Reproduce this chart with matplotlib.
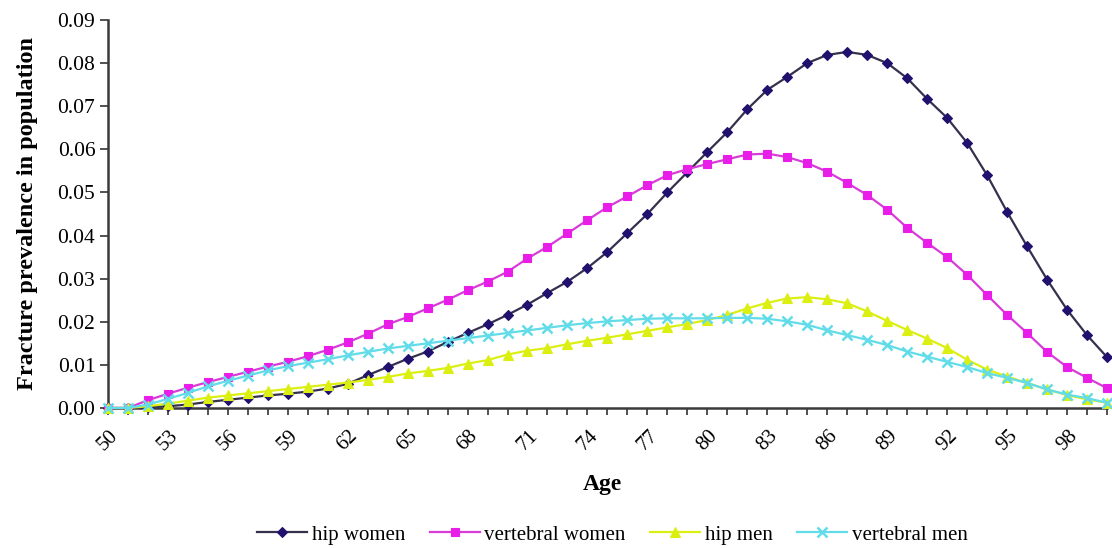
"""Fracture prevalence by age, hip and vertebral, women and men."""

import matplotlib
matplotlib.use("Agg")
import matplotlib.pyplot as plt
import numpy as np

plt.rcParams.update({
    "font.family": "Liberation Serif",
    "font.size": 12,
})

ages = list(range(50, 101))

hip_women = [
    0.0, 0.0, 0.0002, 0.0004, 0.0008, 0.0014, 0.0019, 0.0024, 0.0029, 0.0033,
    0.0038, 0.0045, 0.0056, 0.0076, 0.0095, 0.0114, 0.0131, 0.0153, 0.0174, 0.0194,
    0.0216, 0.0240, 0.0267, 0.0293, 0.0325, 0.0362, 0.0406, 0.0450, 0.0500, 0.0547,
    0.0594, 0.0640, 0.0693, 0.0738, 0.0768, 0.0800, 0.0819, 0.0826, 0.0819, 0.0800,
    0.0765, 0.0717, 0.0673, 0.0615, 0.0540, 0.0455, 0.0375, 0.0298, 0.0228, 0.0169,
    0.0118,
]

vertebral_women = [
    0.0, 0.0, 0.0018, 0.0033, 0.0047, 0.0060, 0.0072, 0.0084, 0.0096, 0.0107,
    0.0120, 0.0135, 0.0152, 0.0172, 0.0194, 0.0211, 0.0231, 0.0251, 0.0273, 0.0293,
    0.0316, 0.0347, 0.0374, 0.0405, 0.0436, 0.0466, 0.0491, 0.0517, 0.0540, 0.0554,
    0.0566, 0.0577, 0.0588, 0.0590, 0.0582, 0.0568, 0.0548, 0.0522, 0.0494, 0.0460,
    0.0418, 0.0383, 0.0350, 0.0309, 0.0262, 0.0216, 0.0174, 0.0130, 0.0095, 0.0070,
    0.0046,
]

hip_men = [
    0.0, 0.0, 0.0004, 0.0010, 0.0017, 0.0024, 0.0029, 0.0034, 0.0039, 0.0044,
    0.0049, 0.0054, 0.0059, 0.0065, 0.0072, 0.0080, 0.0086, 0.0093, 0.0103, 0.0111,
    0.0124, 0.0133, 0.0139, 0.0148, 0.0156, 0.0163, 0.0171, 0.0179, 0.0187, 0.0195,
    0.0204, 0.0216, 0.0231, 0.0244, 0.0254, 0.0257, 0.0252, 0.0243, 0.0224, 0.0202,
    0.0181, 0.0161, 0.0139, 0.0112, 0.0089, 0.0073, 0.0058, 0.0043, 0.0030, 0.0020,
    0.0012,
]

vertebral_men = [
    0.0, 0.0, 0.0008, 0.0021, 0.0035, 0.0050, 0.0063, 0.0075, 0.0087, 0.0097,
    0.0105, 0.0113, 0.0122, 0.0130, 0.0138, 0.0144, 0.0150, 0.0156, 0.0162, 0.0168,
    0.0174, 0.0180, 0.0186, 0.0192, 0.0197, 0.0201, 0.0204, 0.0207, 0.0208, 0.0208,
    0.0208, 0.0209, 0.0209, 0.0207, 0.0201, 0.0193, 0.0180, 0.0169, 0.0158, 0.0146,
    0.0131, 0.0119, 0.0107, 0.0095, 0.0081, 0.0070, 0.0058, 0.0043, 0.0031, 0.0023,
    0.0012,
]

# label, values, marker colour, line colour, marker, marker size
series = [
    ("hip women", hip_women, "#21106e", "#35304e", "D", 5.5),
    ("vertebral women", vertebral_women, "#e81ee8", "#d83cd8", "s", 6),
    ("hip men", hip_men, "#dcef12", "#dcef12", "^", 7),
    ("vertebral men", vertebral_men, "#62dce8", "#62dce8", "x", 6.5),
]

fig = plt.figure(figsize=(11.12, 5.48), dpi=100)
ax = fig.add_axes([0.097, 0.2555, 0.8985, 0.708])

for label, values, mcolor, lcolor, marker, msize in series:
    ax.plot(ages, values, color=lcolor, linewidth=1.6, marker=marker,
            markersize=msize, markerfacecolor=mcolor, markeredgecolor=mcolor,
            markeredgewidth=1.8 if marker == "x" else 0.8,
            label=label, clip_on=False, zorder=3)

ax.set_xlim(50, 100)
ax.set_ylim(0, 0.09)
ax.set_yticks(np.arange(0, 0.091, 0.01))
ax.yaxis.set_major_formatter(matplotlib.ticker.FormatStrFormatter("%.2f"))
ax.set_xticks(range(50, 99, 3))
ax.set_xticks(range(50, 101), minor=True)
ax.tick_params(axis="x", which="both", direction="out", length=5, width=1.2,
               color="#333333")
ax.tick_params(axis="x", which="major", labelsize=15, pad=8)
ax.tick_params(axis="y", direction="out", length=6, width=1.2,
               color="#333333", labelsize=15.5, pad=3)
for lab in ax.get_xticklabels():
    lab.set_rotation(45)
    lab.set_ha("center")
    lab.set_va("top")

for side in ("top", "right"):
    ax.spines[side].set_visible(False)
for side in ("left", "bottom"):
    ax.spines[side].set_linewidth(1.8)
    ax.spines[side].set_color("#3a3a3a")

ax.set_ylabel("Fracture prevalence in population", fontsize=17.5,
              fontweight="bold")
ax.yaxis.set_label_coords(-0.080, 0.5)
ax.set_xlabel("Age", fontsize=17, fontweight="bold")
ax.xaxis.set_label_coords(0.495, -0.196)
ax.xaxis.label.set_va("center")
ax.yaxis.label.set_va("center")

ax.legend(loc="center", bbox_to_anchor=(0.505, -0.327), ncol=4,
          frameon=False, fontsize=15, handlelength=2.4, columnspacing=1.2,
          handletextpad=0.2, borderpad=0.2)

fig.savefig("out.png", dpi=100, facecolor="white")
